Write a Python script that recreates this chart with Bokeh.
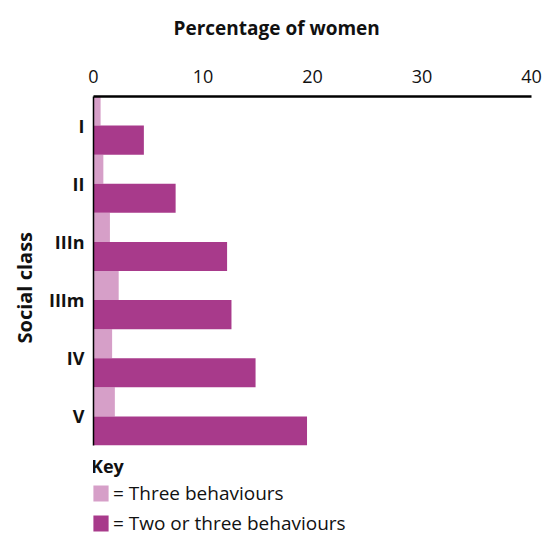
from bokeh.plotting import figure
from bokeh.layouts import column
from bokeh.models import (FactorRange, Range1d, FixedTicker, Title, Label,
                          Legend, LegendItem, ColumnDataSource)
from bokeh.transform import dodge
from bokeh.embed import file_html
from bokeh.resources import INLINE

# ---- data ----
classes = ["I", "II", "IIIn", "IIIm", "IV", "V"]
three_behaviours = [0.65, 0.9, 1.5, 2.3, 1.7, 1.95]
two_or_three_behaviours = [4.6, 7.5, 12.2, 12.6, 14.8, 19.5]
x_ticks = [0, 10, 20, 30, 40]
series_labels = ["= Three behaviours", "= Two or three behaviours"]
x_title = "Percentage of women"
y_title = "Social class"
key_title = "Key"

LIGHT = "#d69fc8"
DARK = "#a83a8b"
FONT = "Open Sans"
INK = "#111111"

# ---- heading strip ----
head = figure(width=560, height=50, output_backend="svg", toolbar_location=None,
              x_range=Range1d(0, 1), y_range=Range1d(0, 1),
              x_axis_type=None, y_axis_type=None,
              min_border_left=0, min_border_right=0, min_border_top=0, min_border_bottom=0)
head.grid.visible = False
head.outline_line_color = None
head.add_layout(Label(x=80, y=23, x_units="screen", y_units="screen", text=x_title,
                      text_font=FONT, text_font_size="19px", text_font_style="bold",
                      text_color=INK, text_align="left", text_baseline="middle"))

# ---- main chart ----
src = ColumnDataSource(dict(cls=classes, three=three_behaviours, two=two_or_three_behaviours))

p = figure(width=560, height=396, output_backend="svg", toolbar_location=None,
           x_range=Range1d(0, 40), y_range=FactorRange(factors=classes[::-1], range_padding=0),
           x_axis_location="above", min_border_left=93, min_border_right=29,
           min_border_top=46, min_border_bottom=1)
p.outline_line_color = None
p.xgrid.visible = False
p.ygrid.visible = False

r1 = p.hbar(y=dodge("cls", 0.25, range=p.y_range), left=0, right="three", height=0.5,
            source=src, fill_color=LIGHT, line_color=None)
r2 = p.hbar(y=dodge("cls", -0.25, range=p.y_range), left=0, right="two", height=0.5,
            source=src, fill_color=DARK, line_color=None)

xa = p.xaxis[0]
xa.ticker = FixedTicker(ticks=x_ticks)
xa.major_tick_line_color = None
xa.minor_tick_line_color = None
xa.axis_line_color = "black"
xa.axis_line_width = 2.5
xa.major_label_text_font = FONT
xa.major_label_text_font_size = "18px"
xa.major_label_text_color = INK
xa.major_label_standoff = 8

ya = p.yaxis[0]
ya.major_tick_line_color = None
ya.minor_tick_line_color = None
ya.axis_line_color = "black"
ya.axis_line_width = 1.5
ya.major_label_text_font = FONT
ya.major_label_text_font_style = "bold"
ya.major_label_text_font_size = "18px"
ya.major_label_text_color = INK
ya.major_label_standoff = 3

yt = Title(text=y_title, align="left", offset=102, text_font=FONT, text_font_size="20px",
           text_font_style="bold", text_color=INK, standoff=16)
p.add_layout(yt, "left")

# ---- key (legend) in its own strip below the chart ----
lg = figure(width=560, height=90, output_backend="svg", toolbar_location=None,
            x_range=Range1d(0, 1), y_range=Range1d(0, 1),
            x_axis_type=None, y_axis_type=None,
            min_border_left=0, min_border_right=0, min_border_top=0, min_border_bottom=0)
lg.grid.visible = False
lg.outline_line_color = None
nan = float("nan")
proxy = ColumnDataSource(dict(y=[nan], right=[nan]))  # legend proxies, nothing drawn
k1 = lg.hbar(y="y", right="right", left=0, height=0.5, source=proxy, fill_color=LIGHT, line_color=None)
k2 = lg.hbar(y="y", right="right", left=0, height=0.5, source=proxy, fill_color=DARK, line_color=None)

legend = Legend(items=[LegendItem(label=series_labels[0], renderers=[k1]),
                       LegendItem(label=series_labels[1], renderers=[k2])],
                title=key_title, location=(-2, 0), orientation="vertical")
legend.title_text_font = FONT
legend.title_text_font_style = "bold"
legend.title_text_font_size = "18px"
legend.title_text_color = INK
legend.title_standoff = 2
legend.label_text_font = FONT
legend.label_text_font_size = "19px"
legend.label_text_color = INK
legend.glyph_width = 19
legend.glyph_height = 20
legend.label_height = 18
legend.label_standoff = 3
legend.spacing = 4
legend.padding = 0
legend.margin = 0
legend.border_line_color = None
legend.background_fill_alpha = 0
lg.add_layout(legend, "center")

layout = column(head, p, lg, spacing=0)
open("out.html", "w").write(file_html(layout, INLINE))
